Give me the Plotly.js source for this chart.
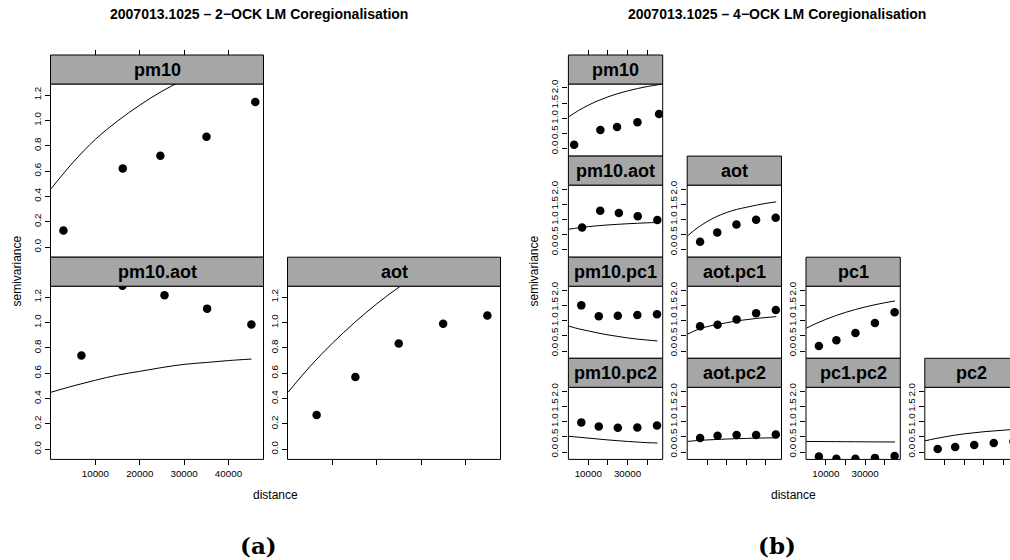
<!DOCTYPE html>
<html><head><meta charset="utf-8">
<script src="https://cdn.plot.ly/plotly-3.0.1.min.js"></script>
<style>html,body{margin:0;padding:0;background:#fff;overflow:hidden}</style>
</head><body><div id="chart" style="width:1010px;height:560px"></div>
<script>
// ---------------- data ----------------
const panelsA = ['pm10', 'pm10.aot', 'aot'];
const panelsB = ['pm10', 'pm10.aot', 'aot', 'pm10.pc1', 'aot.pc1', 'pc1', 'pm10.pc2', 'aot.pc2', 'pc1.pc2', 'pc2'];

// sample variogram: lag distances
const distPm10    = [2800, 16170, 24650, 35050, 46050];
const distPm10Aot = [6850, 16100, 25580, 35190, 45170];
const distAot     = [6450, 15180, 24960, 34970, 44940];
const distPc      = [6450, 15350, 25050, 34990, 45000];

// sample variogram: semivariance
const gamPm10    = [0.13, 0.62, 0.72, 0.87, 1.145];
const gamPm10Aot = [0.74, 1.29, 1.215, 1.11, 0.985];
const gamAot     = [0.27, 0.57, 0.835, 0.99, 1.055];
const gamPm10Pc1 = [1.50, 1.145, 1.155, 1.185, 1.21];
const gamAotPc1  = [0.81, 0.86, 1.035, 1.24, 1.35];
const gamPc1     = [0.165, 0.355, 0.593, 0.918, 1.275];
const gamPm10Pc2 = [0.977, 0.845, 0.80, 0.81, 0.878];
const gamAotPc2  = [0.46, 0.54, 0.56, 0.56, 0.58];
const gamPc1Pc2  = [-0.145, -0.22, -0.22, -0.19, -0.13];
const gamPc2     = [0.10, 0.165, 0.231, 0.297, 0.35];

// fitted model lines
const curveDist     = [0, 5000, 10000, 15000, 20000, 25000, 30000, 35000, 40000, 45200];
const curveDistPm10 = [0, 5000, 10000, 15000, 20000, 25000, 30000, 35000, 40000, 45000, 47400];

const modA_pm10    = [0.46, 0.67, 0.85, 0.995, 1.12, 1.23, 1.32, 1.40, 1.47, 1.53, 1.55];
const modA_pm10Aot = [0.45, 0.50, 0.545, 0.585, 0.615, 0.645, 0.67, 0.685, 0.70, 0.712];
const modA_aot     = [0.45, 0.655, 0.837, 1.0, 1.148, 1.279, 1.396, 1.50, 1.59, 1.67];

const modB_pm10    = [1.05, 1.257, 1.433, 1.581, 1.707, 1.813, 1.903, 1.98, 2.046, 2.099, 2.13];
const modB_pm10Aot = [0.68, 0.725, 0.765, 0.795, 0.82, 0.84, 0.86, 0.875, 0.89, 0.90];
const modB_aot     = [0.46, 0.72, 0.93, 1.10, 1.23, 1.33, 1.40, 1.47, 1.53, 1.58];
const modB_pm10Pc1 = [0.82, 0.73, 0.66, 0.59, 0.53, 0.48, 0.43, 0.39, 0.36, 0.33];
const modB_aotPc1  = [0.55, 0.70, 0.80, 0.87, 0.93, 0.99, 1.03, 1.07, 1.10, 1.13];
const modB_pc1     = [0.748, 0.904, 1.041, 1.162, 1.269, 1.364, 1.447, 1.521, 1.586, 1.645];
const modB_pm10Pc2 = [0.52, 0.49, 0.46, 0.43, 0.40, 0.375, 0.35, 0.33, 0.31, 0.30];
const modB_aotPc2  = [0.35, 0.38, 0.40, 0.415, 0.43, 0.44, 0.45, 0.46, 0.465, 0.47];
const modB_pc1Pc2  = [0.35, 0.348, 0.346, 0.344, 0.342, 0.34, 0.338, 0.336, 0.334, 0.332];
const modB_pc2     = [0.37, 0.44, 0.50, 0.555, 0.60, 0.635, 0.67, 0.695, 0.72, 0.745];

// tick labels
const xTicks     = [10000, 20000, 30000, 40000];
const xTickTextA = ['10000', '20000', '30000', '40000'];
const xTickTextB = ['10000', '', '30000', ''];
const yTicksA    = [0, 0.2, 0.4, 0.6, 0.8, 1.0, 1.2];
const yTickTextA = ['0.0', '0.2', '0.4', '0.6', '0.8', '1.0', '1.2'];
const yTicksB    = [0, 0.5, 1, 1.5, 2];
const yTickTextB = ['0.0', '0.5', '1.0', '1.5', '2.0'];

const titleA = '2007013.1025 \u2013 2\u2212OCK LM Coregionalisation';
const titleB = '2007013.1025 \u2013 4\u2212OCK LM Coregionalisation';

// --------------- data per panel ---------------
const dataA = {
  'pm10':     {px: distPm10, py: gamPm10, cx: curveDistPm10, cy: modA_pm10},
  'pm10.aot': {px: distPm10Aot, py: gamPm10Aot, cx: curveDist, cy: modA_pm10Aot},
  'aot':      {px: distAot, py: gamAot, cx: curveDist, cy: modA_aot}
};
const dataB = {
  'pm10':     {px: distPm10, py: gamPm10, cx: curveDistPm10, cy: modB_pm10},
  'pm10.aot': {px: distPm10Aot, py: gamPm10Aot, cx: curveDist, cy: modB_pm10Aot},
  'aot':      {px: distAot, py: gamAot, cx: curveDist, cy: modB_aot},
  'pm10.pc1': {px: distPc, py: gamPm10Pc1, cx: curveDist, cy: modB_pm10Pc1},
  'aot.pc1':  {px: distPc, py: gamAotPc1, cx: curveDist, cy: modB_aotPc1},
  'pc1':      {px: distPc, py: gamPc1, cx: curveDist, cy: modB_pc1},
  'pm10.pc2': {px: distPc, py: gamPm10Pc2, cx: curveDist, cy: modB_pm10Pc2},
  'aot.pc2':  {px: distPc, py: gamAotPc2, cx: curveDist, cy: modB_aotPc2},
  'pc1.pc2':  {px: distPc, py: gamPc1Pc2, cx: curveDist, cy: modB_pc1Pc2},
  'pc2':      {px: distPc, py: gamPc2, cx: curveDist, cy: modB_pc2}
};

// --------------- layout geometry (pixels) ---------------
const W = 1010, H = 560;
const fx = p => p / W;
const fy = p => 1 - p / H;
const FONT = 'Liberation Sans, Arial, Helvetica, sans-serif';
const XR = [-120, 47900];
const YRA = [-0.08, 1.287];
const YRB = [-0.24, 2.13];
const STRIP_H = 29;
const TICK_FONT = {family: FONT, size: 9.8, color: 'black'};

// panel placement: [name, col, row]
const gridA = [['pm10', 0, 0], ['pm10.aot', 0, 1], ['aot', 1, 1]];
const gridB = [['pm10', 0, 0], ['pm10.aot', 0, 1], ['aot', 1, 1],
               ['pm10.pc1', 0, 2], ['aot.pc1', 1, 2], ['pc1', 2, 2],
               ['pm10.pc2', 0, 3], ['aot.pc2', 1, 3], ['pc1.pc2', 2, 3], ['pc2', 3, 3]];

const traces = [];
const layout = {
  width: W, height: H, margin: {l: 0, r: 0, t: 0, b: 0},
  paper_bgcolor: 'white', plot_bgcolor: 'rgba(0,0,0,0)', showlegend: false,
  font: {family: FONT, color: 'black'},
  shapes: [], annotations: []
};

let idx = 0;
function addPanel(fig, name, col, row) {
  idx += 1;
  const sfx = idx === 1 ? '' : String(idx);
  let x0, x1, stripTop, plotTop, plotBot, yr, yt, ytt, xtt, nRows;
  if (fig === 'A') {
    x0 = 50.5 + col * 237; x1 = x0 + 213;
    stripTop = 55 + row * 202.2; plotTop = stripTop + STRIP_H; plotBot = stripTop + 202.2;
    yr = YRA; yt = yTicksA; ytt = yTickTextA; xtt = xTickTextA; nRows = 2;
  } else {
    x0 = 568.4 + col * 118.8; x1 = x0 + 94.3;
    stripTop = 55 + row * 101.1; plotTop = stripTop + STRIP_H; plotBot = stripTop + 101.1;
    yr = YRB; yt = yTicksB; ytt = yTickTextB; xtt = xTickTextB; nRows = 4;
  }
  const d = (fig === 'A' ? dataA : dataB)[name];
  const isTop = (row === 0);
  const isBottom = (row === nRows - 1);
  const labelled = isBottom && (col % 2 === 0);
  let xr = XR.slice();
  let dx1 = x1;
  if (x1 > W) { xr[1] = XR[0] + (W - x0) / (x1 - x0) * (XR[1] - XR[0]); dx1 = W; }

  const xa = {
    domain: [fx(x0), fx(dx1)], range: xr,
    showgrid: false, zeroline: false, showline: false,
    ticks: (isTop || isBottom) ? 'outside' : '', ticklen: 5, tickwidth: 1, tickcolor: 'black',
    tickvals: xTicks, ticktext: xtt, showticklabels: labelled,
    tickfont: TICK_FONT, fixedrange: true
  };
  if (isTop) { xa.anchor = 'free'; xa.position = fy(stripTop); xa.side = 'top'; xa.showticklabels = false; }
  else { xa.anchor = 'y' + sfx; xa.side = 'bottom'; }
  const ya = {
    domain: [fy(plotBot), fy(plotTop)], range: yr, anchor: 'x' + sfx,
    showgrid: false, zeroline: false, showline: false,
    ticks: 'outside', ticklen: 5, tickwidth: 1, tickcolor: 'black',
    tickvals: yt, ticktext: ytt, tickangle: -90,
    tickfont: TICK_FONT, fixedrange: true
  };
  layout['xaxis' + sfx] = xa;
  layout['yaxis' + sfx] = ya;

  traces.push({x: d.cx, y: d.cy, type: 'scatter', mode: 'lines', xaxis: 'x' + sfx, yaxis: 'y' + sfx,
               line: {color: 'black', width: 1, shape: 'spline'}, hoverinfo: 'skip'});
  traces.push({x: d.px, y: d.py, type: 'scatter', mode: 'markers', xaxis: 'x' + sfx, yaxis: 'y' + sfx,
               marker: {color: 'black', size: 8.5}, hoverinfo: 'x+y'});

  // panel frame
  layout.shapes.push({type: 'rect', xref: 'paper', yref: 'paper', layer: 'above',
    x0: fx(x0), x1: fx(x1), y0: fy(plotBot), y1: fy(plotTop),
    line: {color: 'black', width: 1}, fillcolor: 'rgba(0,0,0,0)'});
  // strip
  layout.shapes.push({type: 'rect', xref: 'paper', yref: 'paper', layer: 'above',
    x0: fx(x0), x1: fx(x1), y0: fy(plotTop), y1: fy(stripTop),
    line: {color: 'black', width: 1}, fillcolor: '#a6a6a6'});
  layout.annotations.push({xref: 'paper', yref: 'paper', x: fx((x0 + x1) / 2), y: fy(stripTop + STRIP_H / 2),
    text: '<b>' + name + '</b>', showarrow: false, xanchor: 'center', yanchor: 'middle',
    font: {family: FONT, size: 18, color: 'black'}});
}

gridA.forEach(g => addPanel('A', g[0], g[1], g[2]));
gridB.forEach(g => addPanel('B', g[0], g[1], g[2]));

function txt(text, x, y, size, opts) {
  layout.annotations.push(Object.assign({xref: 'paper', yref: 'paper', x: fx(x), y: fy(y), text: text,
    showarrow: false, xanchor: 'center', yanchor: 'middle', font: {family: FONT, size: size, color: 'black'}}, opts || {}));
}
txt('<b>' + titleA + '</b>', 258.5, 14, 14);
txt('<b>' + titleB + '</b>', 777, 14, 14);
txt('distance', 275, 495, 12);
txt('distance', 793, 495, 12);
txt('semivariance', 16.5, 271, 12, {textangle: -90});
txt('semivariance', 533.5, 271, 12, {textangle: -90});
txt('<b>(a)</b>', 258, 545, 23, {font: {family: 'DejaVu Serif, serif', size: 23, color: 'black'}});
txt('<b>(b)</b>', 777, 545, 23, {font: {family: 'DejaVu Serif, serif', size: 23, color: 'black'}});

Plotly.newPlot('chart', traces, layout, {displayModeBar: false, staticPlot: true});
</script>
</body></html>
